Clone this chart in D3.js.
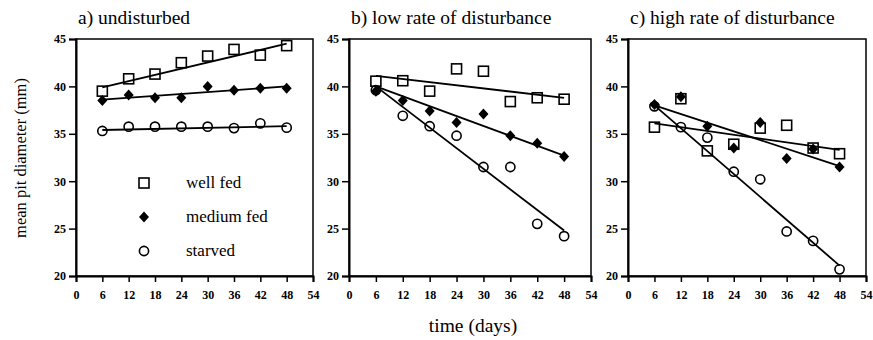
<!DOCTYPE html>
<html>
<head>
<meta charset="utf-8">
<script src="https://cdn.jsdelivr.net/npm/d3@7"></script>
<style>
  body { margin: 0; background: #fff; }
</style>
</head>
<body>
<div id="chart"></div>
<script>
const width = 873, height = 340;
const serif = "Liberation Serif";

// data
const days = [6, 12, 18, 24, 30, 36, 42, 48];
const xTicks = [0, 6, 12, 18, 24, 30, 36, 42, 48, 54];
const yTicks = [20, 25, 30, 35, 40, 45];
const titles = ["a) undisturbed", "b) low rate of disturbance", "c) high rate of disturbance"];
const groups = ["well fed", "medium fed", "starved"];

const aWell = [39.5, 40.8, 41.3, 42.5, 43.2, 43.9, 43.3, 44.3];
const aMedium = [38.5, 39.1, 38.8, 38.8, 40.0, 39.6, 39.8, 39.8];
const aStarved = [35.3, 35.75, 35.75, 35.75, 35.75, 35.6, 36.1, 35.65];

const bWell = [40.55, 40.6, 39.5, 41.85, 41.6, 38.4, 38.8, 38.65];
const bMedium = [39.5, 38.5, 37.4, 36.2, 37.1, 34.8, 34.0, 32.6];
const bStarved = [39.6, 36.9, 35.8, 34.8, 31.5, 31.5, 25.5, 24.2];

const cWell = [35.7, 38.7, 33.2, 33.9, 35.6, 35.9, 33.5, 32.9];
const cMedium = [38.1, 38.9, 35.8, 33.5, 36.2, 32.4, 33.4, 31.5];
const cStarved = [37.9, 35.7, 34.6, 31.0, 30.2, 24.7, 23.7, 20.7];

// fitted lines: value at day 6 and day 48
const fitDays = [6, 48];
const aFits = [[39.9, 44.5], [38.6, 40.0], [35.4, 35.8]];
const bFits = [[41.1, 38.8], [40.0, 32.7], [40.0, 24.8]];
const cFits = [[36.1, 33.3], [38.0, 31.6], [38.0, 21.1]];

const panels = [
  { title: titles[0], series: [aWell, aMedium, aStarved], fits: aFits, x0: 76, x1: 313 },
  { title: titles[1], series: [bWell, bMedium, bStarved], fits: bFits, x0: 349, x1: 591 },
  { title: titles[2], series: [cWell, cMedium, cStarved], fits: cFits, x0: 628, x1: 866 }
];
const plotTop = 39, plotBottom = 276;

const svg = d3.select("#chart")
  .append("svg")
  .attr("width", width)
  .attr("height", height);

const y = d3.scaleLinear().domain([20, 45]).range([plotBottom, plotTop]);

// marker drawers, one per group
function drawMarker(g, kind, cx, cy) {
  if (kind === 0) {
    g.append("rect")
      .attr("x", cx - 5).attr("y", cy - 5)
      .attr("width", 10).attr("height", 10)
      .attr("fill", "none").attr("stroke", "#000").attr("stroke-width", 1.6);
  } else if (kind === 1) {
    g.append("path")
      .attr("d", `M${cx},${cy - 5.5}L${cx + 5},${cy}L${cx},${cy + 5.5}L${cx - 5},${cy}Z`)
      .attr("fill", "#000");
  } else {
    g.append("circle")
      .attr("cx", cx).attr("cy", cy).attr("r", 4.6)
      .attr("fill", "none").attr("stroke", "#000").attr("stroke-width", 1.6);
  }
}

function styleAxis(a) {
  a.attr("font-family", serif).attr("font-size", 12).attr("font-weight", "bold");
  a.select(".domain").attr("stroke-width", 2);
  a.selectAll(".tick line").attr("stroke-width", 1.5);
  a.selectAll(".tick text").attr("fill", "#000");
}

panels.forEach(p => {
  const x = d3.scaleLinear().domain([0, 54]).range([p.x0, p.x1]);
  const g = svg.append("g");

  // frame
  g.append("rect")
    .attr("x", p.x0).attr("y", plotTop)
    .attr("width", p.x1 - p.x0).attr("height", plotBottom - plotTop)
    .attr("fill", "none").attr("stroke", "#000").attr("stroke-width", 1.5);

  g.append("g")
    .attr("transform", `translate(0,${plotBottom})`)
    .call(d3.axisBottom(x).tickValues(xTicks).tickSize(6).tickPadding(8).tickFormat(d3.format("d")))
    .call(styleAxis);

  g.append("g")
    .attr("transform", `translate(${p.x0},0)`)
    .call(d3.axisLeft(y).tickValues(yTicks).tickSize(7).tickPadding(3).tickFormat(d3.format("d")))
    .call(styleAxis);

  g.append("text")
    .attr("x", p.x0 + 2)
    .attr("y", 24)
    .attr("font-family", serif)
    .attr("font-size", 19.5)
    .text(p.title);

  const line = d3.line().x((d, i) => x(fitDays[i])).y(d => y(d));
  p.fits.forEach(f => {
    g.append("path")
      .datum(f)
      .attr("d", line)
      .attr("fill", "none")
      .attr("stroke", "#000")
      .attr("stroke-width", 1.8);
  });

  p.series.forEach((s, k) => {
    s.forEach((v, i) => drawMarker(g, k, x(days[i]), y(v)));
  });
});

// legend inside panel a
const legendY = [183, 217, 251];
groups.forEach((name, k) => {
  drawMarker(svg, k, 144, legendY[k]);
  svg.append("text")
    .attr("x", 186)
    .attr("y", legendY[k] + 5)
    .attr("font-family", serif)
    .attr("font-size", 17)
    .text(name);
});

svg.append("text")
  .attr("transform", "translate(26,158) rotate(-90)")
  .attr("text-anchor", "middle")
  .attr("font-family", serif)
  .attr("font-size", 16.5)
  .text("mean pit diameter (mm)");

svg.append("text")
  .attr("x", 473)
  .attr("y", 332)
  .attr("text-anchor", "middle")
  .attr("font-family", serif)
  .attr("font-size", 19.5)
  .text("time (days)");
</script>
</body>
</html>
